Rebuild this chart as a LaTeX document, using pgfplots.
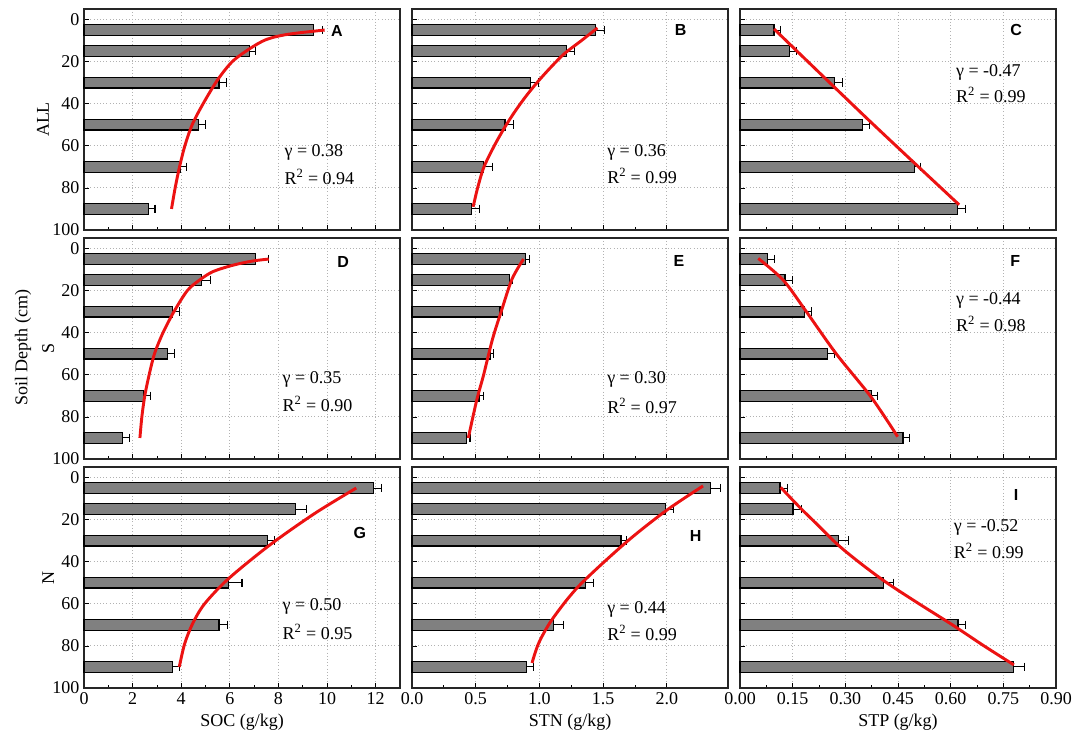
\documentclass[border=0pt]{standalone}
\usepackage{pgfplots}
\pgfplotsset{compat=1.18}
\usepackage{fontspec}
\setmainfont{Liberation Serif}
\newfontfamily\sansb{Liberation Sans}
\newcommand\tfont{\fontsize{13.5}{16}\selectfont}
\newcommand\lfont{\sansb\bfseries\fontsize{12}{14}\selectfont}
\definecolor{barcol}{RGB}{128,128,128}
\definecolor{fitred}{RGB}{236,18,18}
\pgfplotsset{
  base/.style={scale only axis, width=237pt, height=165.75pt,
    y dir=reverse, ymin=-5, ymax=100, ytick={0,20,40,60,80,100}, xmin=0,
    tick align=inside, tick pos=left, xmajorgrids, ymajorgrids,
    grid style={dotted, black!30, line width=0.7pt},
    axis line style={black!85, line width=1pt},
    major tick length=4pt, minor tick length=2.5pt,
    every tick/.style={black, line width=0.6pt},
    minor x tick num=1,
    ticklabel style={font=\tfont}, label style={font=\tfont},
    /pgf/number format/assume math mode=true, clip=false,
    anchor=north west},
  soc/.style={xmax=13, xtick={0,2,4,6,8,10,12}},
  stn/.style={xmax=2.48, xtick={0,0.5,1,1.5,2},
    xticklabel style={/pgf/number format/.cd, fixed, fixed zerofill, precision=1, /tikz/.cd}},
  stp/.style={xmax=0.9, xtick={0,0.15,0.3,0.45,0.6,0.75,0.9},
    xticklabel style={/pgf/number format/.cd, fixed, fixed zerofill, precision=2, /tikz/.cd}},
  noy/.style={yticklabels={}},
  nox/.style={xticklabels={}},
  bars/.style={xbar, bar width=5, fill=barcol, draw=black, line width=0.9pt,
    error bars/x dir=plus, error bars/x explicit,
    error bars/error mark options={black, line width=0.8pt, mark size=3.2pt, rotate=90},
    error bars/error bar style={black, line width=0.8pt}},
  fit/.style={fitred, line width=2.2pt, smooth, mark=none},
}
\begin{document}
\begin{tikzpicture}
\useasboundingbox (0,0) rectangle (813pt,-561pt);
\node[rotate=90, font=\tfont] at (17.25pt,-261pt) {Soil Depth (cm)};
% ---------- Row 1 ----------
\begin{axis}[base, soc, nox, at={(63pt,-6.75pt)}]
\addplot[bars] coordinates {(9.45,5) +- (0.35,0) (6.8,15) +- (0.25,0) (5.55,30) +- (0.3,0) (4.7,50) +- (0.28,0) (3.95,70) +- (0.25,0) (2.65,90) +- (0.27,0)};
\addplot[fit] coordinates {(9.9,5) (8.4,7) (7.5,9.5) (6.8,14) (6.1,20) (5.5,28.6) (4.9,40) (4.45,50) (4.15,60) (3.93,70) (3.75,80) (3.6,90)};
\node[rotate=90, font=\tfont] at (axis description cs:-0.13,0.5) {ALL};
\node[font=\lfont] at (axis description cs:0.80,0.90) {A};
\node[anchor=west, font=\tfont] at (axis description cs:0.62,0.353) {γ = 0.38};
\node[anchor=west, font=\tfont] at (axis description cs:0.62,0.24) {R\textsuperscript{2} = 0.94};
\end{axis}
\begin{axis}[base, stn, nox, noy, at={(309pt,-6.75pt)}]
\addplot[bars] coordinates {(1.44,5) +- (0.07,0) (1.21,15) +- (0.065,0) (0.93,30) +- (0.06,0) (0.73,50) +- (0.07,0) (0.56,70) +- (0.07,0) (0.47,90) +- (0.06,0)};
\addplot[fit] coordinates {(1.455,4) (1.33,10) (1.2,16) (1.1,22) (0.995,29) (0.9,36) (0.81,43.5) (0.73,51) (0.65,59.5) (0.565,70) (0.515,80) (0.48,89)};
\node[font=\lfont] at (axis description cs:0.85,0.905) {B};
\node[anchor=west, font=\tfont] at (axis description cs:0.603,0.353) {γ = 0.36};
\node[anchor=west, font=\tfont] at (axis description cs:0.603,0.244) {R\textsuperscript{2} = 0.99};
\end{axis}
\begin{axis}[base, stp, nox, noy, at={(555pt,-6.75pt)}]
\addplot[bars] coordinates {(0.097,5) +- (0.018,0) (0.14,15) +- (0.021,0) (0.268,30) +- (0.025,0) (0.348,50) +- (0.021,0) (0.497,70) +- (0.016,0) (0.62,90) +- (0.021,0)};
\addplot[fit] coordinates {(0.097,4.5) (0.368,48) (0.624,88)};
\node[font=\lfont] at (axis description cs:0.874,0.905) {C};
\node[anchor=west, font=\tfont] at (axis description cs:0.669,0.715) {γ = -0.47};
\node[anchor=west, font=\tfont] at (axis description cs:0.669,0.61) {R\textsuperscript{2} = 0.99};
\end{axis}
% ---------- Row 2 ----------
\begin{axis}[base, soc, nox, at={(63pt,-178.5pt)}]
\addplot[bars] coordinates {(7.05,5) +- (0.55,0) (4.85,15) +- (0.35,0) (3.65,30) +- (0.27,0) (3.45,50) +- (0.27,0) (2.45,70) +- (0.3,0) (1.6,90) +- (0.27,0)};
\addplot[fit] coordinates {(7.6,5) (6.9,6) (6.1,8) (5.3,11) (4.75,15) (4.25,20) (3.7,30) (3.25,40) (2.9,50) (2.68,60) (2.5,70) (2.38,80) (2.3,90)};
\node[rotate=90, font=\tfont] at (axis description cs:-0.113,0.5) {S};
\node[font=\lfont] at (axis description cs:0.82,0.89) {D};
\node[anchor=west, font=\tfont] at (axis description cs:0.614,0.36) {γ = 0.35};
\node[anchor=west, font=\tfont] at (axis description cs:0.614,0.25) {R\textsuperscript{2} = 0.90};
\end{axis}
\begin{axis}[base, stn, nox, noy, at={(309pt,-178.5pt)}]
\addplot[bars] coordinates {(0.89,5) +- (0.03,0) (0.766,15) +- (0.024,0) (0.69,30) +- (0.02,0) (0.613,50) +- (0.027,0) (0.526,70) +- (0.034,0) (0.43,90) +- (0.025,0)};
\addplot[fit] coordinates {(0.875,5) (0.785,14.5) (0.705,29) (0.632,43) (0.56,60.5) (0.508,72) (0.442,90)};
\node[font=\lfont] at (axis description cs:0.845,0.895) {E};
\node[anchor=west, font=\tfont] at (axis description cs:0.603,0.36) {γ = 0.30};
\node[anchor=west, font=\tfont] at (axis description cs:0.603,0.24) {R\textsuperscript{2} = 0.97};
\end{axis}
\begin{axis}[base, stp, nox, noy, at={(555pt,-178.5pt)}]
\addplot[bars] coordinates {(0.078,5) +- (0.019,0) (0.128,15) +- (0.021,0) (0.184,30) +- (0.019,0) (0.249,50) +- (0.021,0) (0.374,70) +- (0.017,0) (0.464,90) +- (0.02,0)};
\addplot[fit] coordinates {(0.052,4.7) (0.123,15) (0.186,29.3) (0.274,50) (0.374,70.7) (0.449,89.4)};
\node[font=\lfont] at (axis description cs:0.871,0.895) {F};
\node[anchor=west, font=\tfont] at (axis description cs:0.669,0.718) {γ = -0.44};
\node[anchor=west, font=\tfont] at (axis description cs:0.669,0.61) {R\textsuperscript{2} = 0.98};
\end{axis}
% ---------- Row 3 ----------
\begin{axis}[base, soc, at={(63pt,-350.25pt)}, xlabel={SOC (g/kg)}]
\addplot[bars] coordinates {(11.9,5) +- (0.35,0) (8.7,15) +- (0.45,0) (7.55,30) +- (0.3,0) (5.95,50) +- (0.55,0) (5.55,70) +- (0.35,0) (3.65,90) +- (0.27,0)};
\addplot[fit] coordinates {(11.2,5) (9.5,17) (7.65,32) (5.95,48) (4.96,60) (4.47,69.4) (4.14,79) (3.92,90)};
\node[rotate=90, font=\tfont] at (axis description cs:-0.113,0.5) {N};
\node[font=\lfont] at (axis description cs:0.873,0.70) {G};
\node[anchor=west, font=\tfont] at (axis description cs:0.614,0.367) {γ = 0.50};
\node[anchor=west, font=\tfont] at (axis description cs:0.614,0.253) {R\textsuperscript{2} = 0.95};
\end{axis}
\begin{axis}[base, stn, noy, at={(309pt,-350.25pt)}, xlabel={STN (g/kg)}]
\addplot[bars] coordinates {(2.34,5) +- (0.08,0) (1.99,15) +- (0.06,0) (1.64,30) +- (0.045,0) (1.36,50) +- (0.065,0) (1.11,70) +- (0.08,0) (0.90,90) +- (0.05,0)};
\addplot[fit] coordinates {(2.284,4) (1.995,15.7) (1.68,30.8) (1.31,51.5) (1.10,67.4) (0.995,78.6) (0.942,88.1)};
\node[font=\lfont] at (axis description cs:0.898,0.69) {H};
\node[anchor=west, font=\tfont] at (axis description cs:0.603,0.357) {γ = 0.44};
\node[anchor=west, font=\tfont] at (axis description cs:0.603,0.249) {R\textsuperscript{2} = 0.99};
\end{axis}
\begin{axis}[base, stp, noy, at={(555pt,-350.25pt)}, xlabel={STP (g/kg)}]
\addplot[bars] coordinates {(0.114,5) +- (0.02,0) (0.151,15) +- (0.024,0) (0.281,30) +- (0.028,0) (0.409,50) +- (0.028,0) (0.621,70) +- (0.02,0) (0.779,90) +- (0.03,0)};
\addplot[fit] coordinates {(0.116,4.7) (0.146,10) (0.175,15) (0.218,22) (0.279,32) (0.345,41) (0.418,50) (0.51,60) (0.605,70) (0.695,80) (0.78,89)};
\node[font=\lfont] at (axis description cs:0.874,0.873) {I};
\node[anchor=west, font=\tfont] at (axis description cs:0.662,0.728) {γ = -0.52};
\node[anchor=west, font=\tfont] at (axis description cs:0.662,0.62) {R\textsuperscript{2} = 0.99};
\end{axis}
\end{tikzpicture}
\end{document}
